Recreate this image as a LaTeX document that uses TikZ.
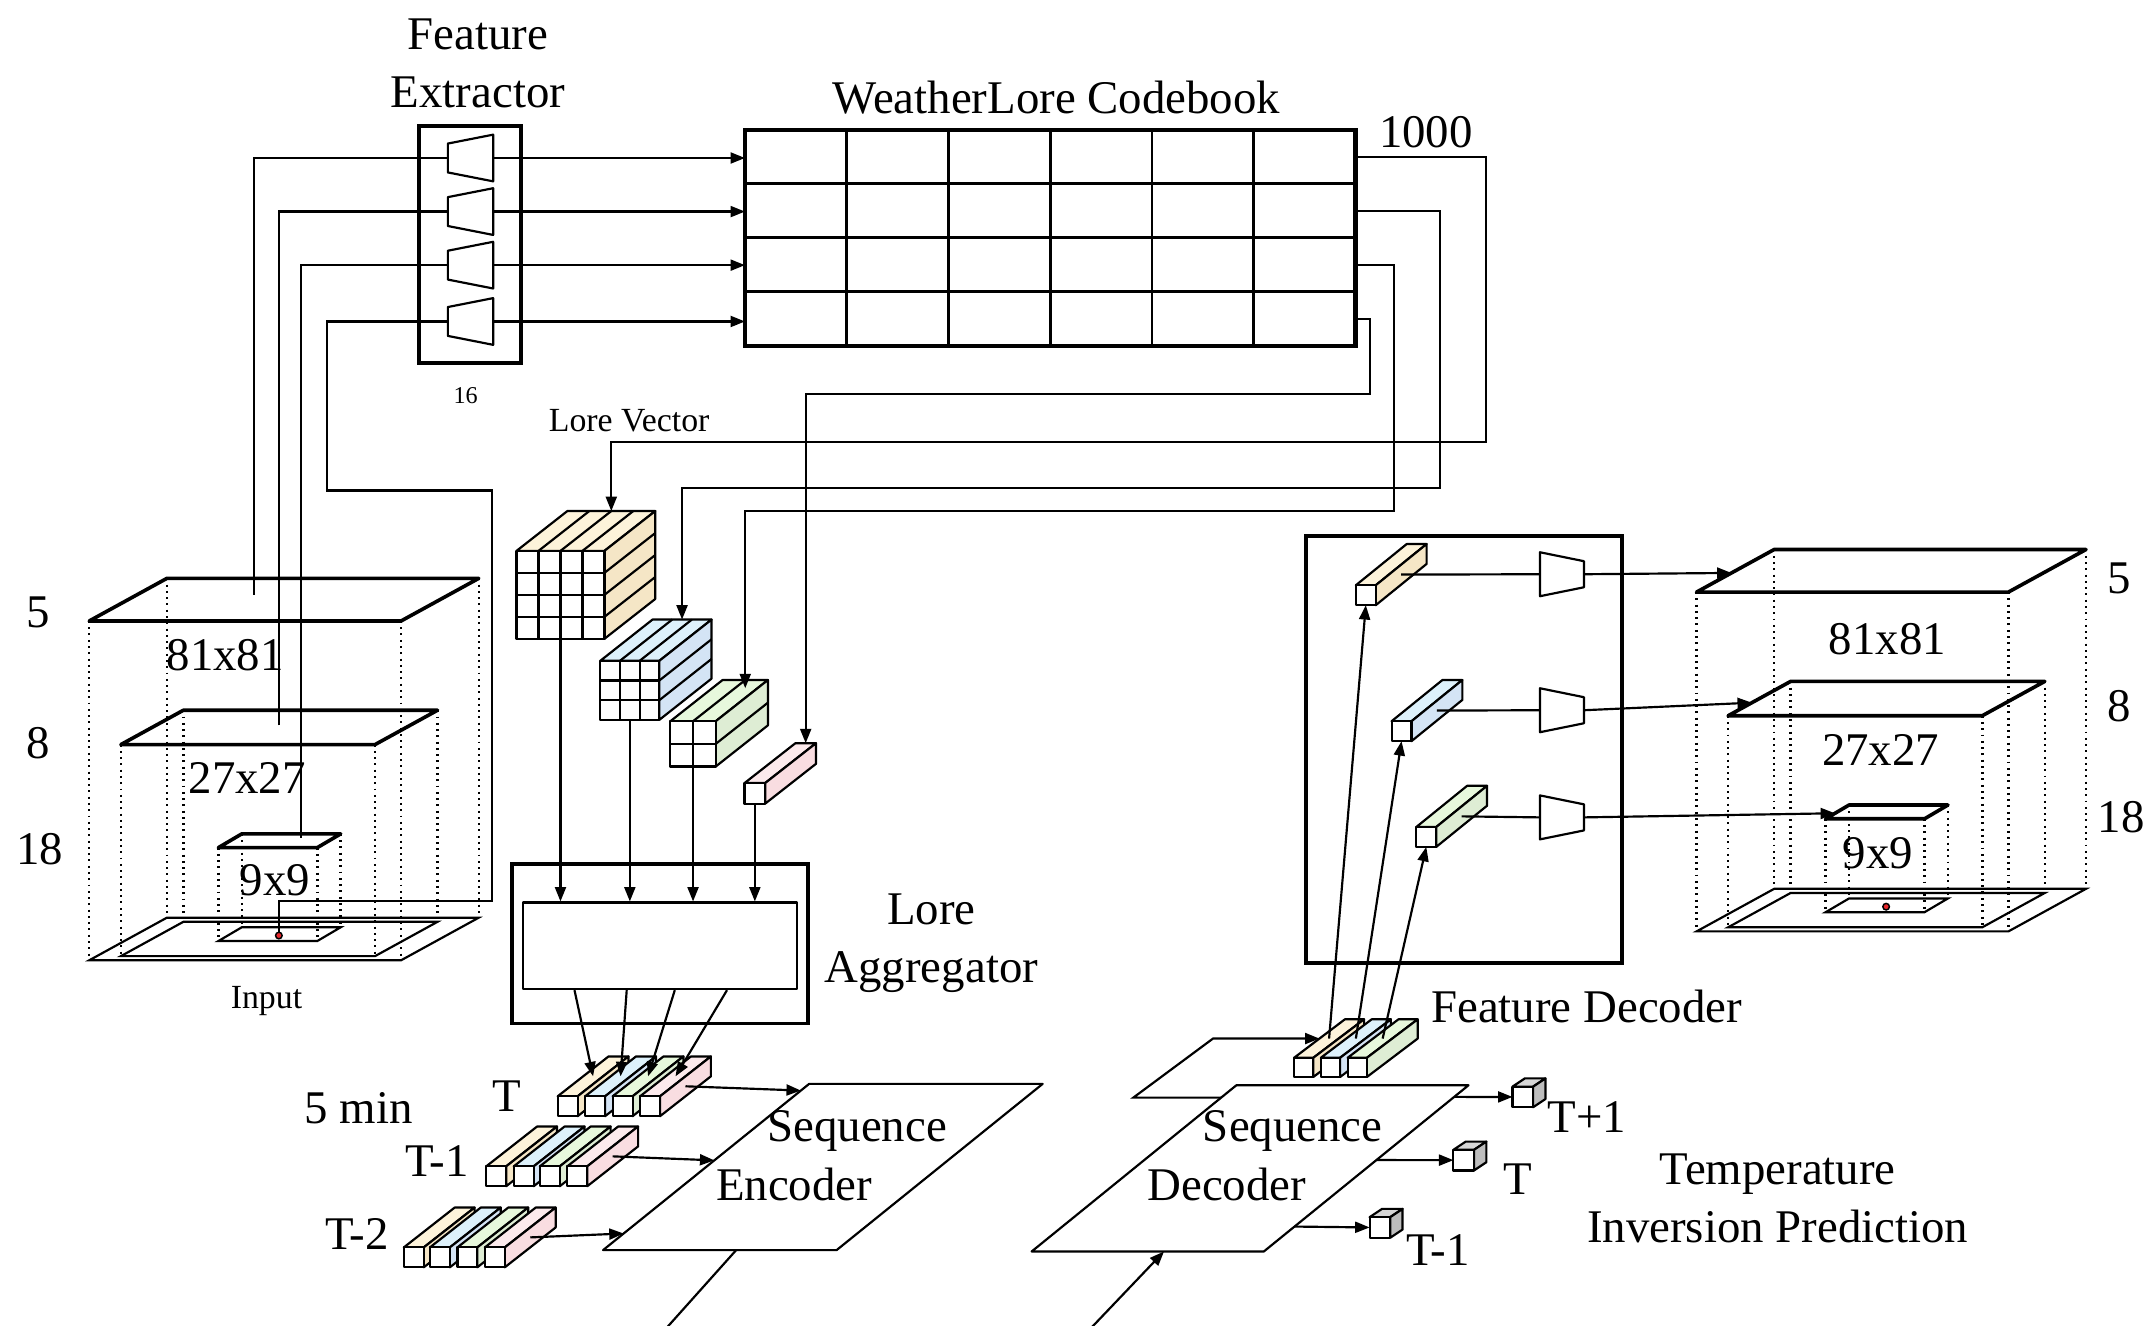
\documentclass[tikz,border=0pt]{standalone}
\usepackage{fontspec}
\setmainfont{Liberation Serif}
\usetikzlibrary{arrows.meta,calc,fit}

\definecolor{yelTop}{HTML}{FDF3DA}
\definecolor{yelSide}{HTML}{F5E6C6}
\definecolor{bluTop}{HTML}{DDF1FB}
\definecolor{bluSide}{HTML}{D4E4F5}
\definecolor{grnTop}{HTML}{E7F8DC}
\definecolor{grnSide}{HTML}{DEEDD4}
\definecolor{pnkTop}{HTML}{FCEAEC}
\definecolor{pnkSide}{HTML}{F9DDE1}
\definecolor{gryTop}{HTML}{D6D6D6}
\definecolor{grySide}{HTML}{BDBDBD}
\definecolor{dotRed}{HTML}{E8262B}

\tikzset{
  thinline/.style={line width=0.45pt,line join=round},
  wire/.style={line width=0.45pt},
  arr/.style={wire,-{Triangle[length=1.05mm,width=0.8mm]}},
  boxframe/.style={draw,line width=0.8pt,inner sep=0pt},
  gridline/.style={line width=0.55pt},
  plane/.style={line width=0.75pt,line join=round},
  baseplane/.style={line width=0.45pt},
  dotline/.style={line width=0.5pt,dash pattern=on 0.4pt off 0.9pt},
  big/.style={font=\fontsize{9.7}{11.9}\selectfont,inner sep=0pt,align=center},
  small/.style={font=\fontsize{7}{8.4}\selectfont,inner sep=0pt},
  tiny/.style={font=\fontsize{5}{6}\selectfont,inner sep=0pt},
}

% Box with an n x n front grid and a slanted depth.
% #1 name, #2 x, #3 y (front top-left), #4 cell size, #5 cells per side,
% #6 depth x, #7 depth y, #8 top colour, #9 side colour
\newcommand\prism[9]{%
  \pgfmathsetmacro\pw{#4*#5}%
  \pgfmathsetmacro\hdx{0.5*#6}%
  \pgfmathsetmacro\hdy{0.5*(#7)}%
  \coordinate (#1-ftl) at (#2,#3);
  \coordinate (#1-ftr) at ($(#2,#3)+(\pw,0)$);
  \coordinate (#1-fbr) at ($(#2,#3)+(\pw,\pw)$);
  \coordinate (#1-fbl) at ($(#2,#3)+(0,\pw)$);
  \filldraw[fill=#8,thinline] (#1-ftl) -- (#1-ftr) -- ++(#6,#7) -- ($(#1-ftl)+(#6,#7)$) -- cycle;
  \filldraw[fill=#9,thinline] (#1-ftr) -- (#1-fbr) -- ++(#6,#7) -- ($(#1-ftr)+(#6,#7)$) -- cycle;
  \filldraw[fill=white,thinline] (#1-ftl) rectangle (#1-fbr);
  \ifnum#5>1
    \pgfmathtruncatemacro\pn{#5-1}%
    \foreach \k in {1,...,\pn}{
      \draw[thinline] ($(#1-ftl)+({\k*#4},0)$) -- ++(0,\pw);
      \draw[thinline] ($(#1-ftl)+(0,{\k*#4})$) -- ++(\pw,0);
      \draw[thinline] ($(#1-ftl)+({\k*#4},0)$) -- ++(#6,#7);
      \draw[thinline] ($(#1-ftr)+(0,{\k*#4})$) -- ++(#6,#7);
    }
  \fi
  \coordinate (#1-top) at ($(#1-ftl)!0.5!(#1-ftr)+(\hdx,\hdy)$);
  \coordinate (#1-back) at ($(#1-ftl)!0.5!(#1-ftr)+(#6,#7)$);
  \coordinate (#1-side) at ($(#1-ftr)!0.5!(#1-fbr)+(\hdx,\hdy)$);
  \coordinate (#1-tl) at ($(#1-ftl)+(\hdx,\hdy)$);
  \coordinate (#1-bot) at ($(#1-fbl)!0.5!(#1-fbr)$);
  \coordinate (#1-w) at ($(#1-ftl)!0.5!(#1-fbl)$);
}

% Trapezoid block: #1 name, #2 left x, #3 centre y,
% #4 left half-height, #5 right half-height, #6 width
\newcommand\trap[6]{%
  \filldraw[fill=white,thinline] (#2,#3-#4) -- (#2+#6,#3-#5) -- (#2+#6,#3+#5) -- (#2,#3+#4) -- cycle;
  \coordinate (#1-in) at (#2,#3);
  \coordinate (#1-out) at (#2+#6,#3);
}

% Corners of a horizontal sheet seen in perspective:
% #1 name, #2 #3 front-left corner, #4 width, #5 #6 offset of the back edge
\newcommand\layer[6]{%
  \coordinate (#1-fl) at (#2,#3);
  \coordinate (#1-fr) at (#2+#4,#3);
  \coordinate (#1-br) at (#2+#4+#5,#3+#6);
  \coordinate (#1-bl) at (#2+#5,#3+#6);
}

% Three stacked pressure levels over a ground sheet: #1 prefix, #2 #3 shift
\newcommand\volume[3]{%
  \begin{scope}[shift={(#2,#3)}]
    \layer{#1t}{65}{452}{227}{56.5}{-31}
    \layer{#1m}{88}{542}{185}{45.5}{-25}
    \layer{#1s}{159}{617}{72}{17}{-10}
    \layer{#1bt}{65}{699}{227}{56.5}{-31}
    \layer{#1bm}{88}{696}{185}{45.5}{-25}
    \layer{#1bs}{159}{685}{72}{17}{-10}
    \coordinate (#1dot) at (203,681);
  \end{scope}
  \foreach \c in {fl,fr,br,bl}{
    \draw[dotline] (#1t-\c) -- (#1bt-\c);
    \draw[dotline] (#1m-\c) -- (#1bm-\c);
    \draw[dotline] (#1s-\c) -- (#1bs-\c);
  }
  \foreach \p in {#1bt,#1bm,#1bs}{
    \draw[baseplane] (\p-fl) -- (\p-fr) -- (\p-br) -- (\p-bl) -- cycle;
  }
  \foreach \p in {#1t,#1m,#1s}{
    \draw[plane] (\p-fl) -- (\p-fr) -- (\p-br) -- (\p-bl) -- cycle;
  }
}

\begin{document}
\begin{tikzpicture}[x=0.1mm,y=-0.1mm]
\useasboundingbox (0,0) rectangle (1568,965);

% ---------- titles ----------
\node[big] (feTitle) at (348,46) {Feature\\Extractor};
\node[big] (cbTitle) at (769,71) {WeatherLore Codebook};
\node[big] (cbSize) at (1038,96) {1000};
\node[tiny] (feSize) at (339,288) {16};
\node[small] (lvTitle) at (458,306) {Lore Vector};

% ---------- input volume ----------
\volume{L}{0}{0}
\node[big] (lv5) at (28,446) {5};
\node[big] (lv8) at (28,541) {8};
\node[big] (lv18) at (29,618) {18};
\node[big] (lr81) at (164,477) {81x81};
\node[big] (lr27) at (180,566) {27x27};
\node[big] (lr9) at (200,641) {9x9};
\node[small] (inLbl) at (194,729) {Input};

% ---------- feature extractor ----------
\node[boxframe,fit={(305,92) (379,264)}] (fe) {};
\trap{te1}{326}{115}{10.5}{17}{33}
\trap{te2}{326}{154}{10.5}{17}{33}
\trap{te3}{326}{193}{10.5}{17}{33}
\trap{te4}{326}{234}{10.5}{17}{33}

\coordinate (tap5) at (185,433);
\coordinate (tap8) at (203,528);
\coordinate (tap18) at (219,610);
\draw[wire] (tap5) |- (te1-in);
\draw[wire] (tap8) |- (te2-in);
\draw[wire] (tap18) |- (te3-in);
\draw[wire] (Ldot) |- (358,656) |- (238,357) |- (te4-in);
\filldraw[fill=dotRed,line width=0.3pt] (Ldot) circle[radius=0.24mm];

% ---------- codebook ----------
\node[inner sep=0pt,fit={(543,95) (986,251)}] (cb) {};
\foreach \i [evaluate=\i as \f using \i/6] in {1,...,5}
  \draw[gridline] ($(cb.north west)!\f!(cb.north east)$) -- ($(cb.south west)!\f!(cb.south east)$);
\foreach \j [evaluate=\j as \f using \j/4] in {1,2,3}
  \draw[gridline] ($(cb.north west)!\f!(cb.south west)$) -- ($(cb.north east)!\f!(cb.south east)$);
\draw[line width=0.85pt] (cb.north west) rectangle (cb.south east);

\foreach \r in {1,...,4}
  \draw[arr] (te\r-out) -- (te\r-out -| cb.west);

\coordinate (cbr1) at ($(cb.north east)!0.125!(cb.south east)$);
\coordinate (cbr2) at ($(cb.north east)!0.375!(cb.south east)$);
\coordinate (cbr3) at ($(cb.north east)!0.625!(cb.south east)$);
\coordinate (cbr4) at ($(cb.north east)!0.875!(cb.south east)$);

% ---------- lore vectors ----------
\prism{yc}{376}{401}{16}{4}{37}{-29}{yelTop}{yelSide}
\prism{bc}{437}{481}{14.33}{3}{38}{-30}{bluTop}{bluSide}
\prism{gc}{488}{525}{16.5}{2}{38}{-30}{grnTop}{grnSide}
\prism{pc}{542}{570}{15}{1}{37}{-29}{pnkTop}{pnkSide}

\draw[arr] (cbr1) -| (1082,322) -| (yc-back);
\draw[arr] (cbr2) -| (1048,355) -| (bc-back);
\draw[arr] (cbr3) -| (1015,372) -| ($(gc-back)+(0,6)$);
\draw[arr] (cbr4) -| (997,287) -| (pc-back);

% ---------- lore aggregator ----------
\node[boxframe,fit={(373,629) (588,745)}] (agout) {};
\node[draw,thinline,inner sep=0pt,fit={(381,657) (580,720)}] (agin) {};
\node[big] (agLbl) at (678,686.5) {Lore\\Aggregator};

\draw[arr] (yc-bot) -- (yc-bot |- agin.north);
\draw[arr] (bc-bot) -- (bc-bot |- agin.north);
\draw[arr] (gc-bot) -- (gc-bot |- agin.north);
\draw[arr] (pc-bot) -- (pc-bot |- agin.north);

% ---------- time steps ----------
\prism{t0Y}{406}{798}{14.5}{1}{37}{-29}{yelTop}{yelSide}
\prism{t0B}{426}{798}{14.5}{1}{37}{-29}{bluTop}{bluSide}
\prism{t0G}{446}{798}{14.5}{1}{37}{-29}{grnTop}{grnSide}
\prism{t0P}{466}{798}{14.5}{1}{37}{-29}{pnkTop}{pnkSide}

\prism{t1Y}{354}{849}{14.5}{1}{37}{-29}{yelTop}{yelSide}
\prism{t1B}{374}{849}{14.5}{1}{37}{-29}{bluTop}{bluSide}
\prism{t1G}{393}{849}{14.5}{1}{37}{-29}{grnTop}{grnSide}
\prism{t1P}{413}{849}{14.5}{1}{37}{-29}{pnkTop}{pnkSide}

\prism{t2Y}{294}{908}{14.5}{1}{37}{-29}{yelTop}{yelSide}
\prism{t2B}{313}{908}{14.5}{1}{37}{-29}{bluTop}{bluSide}
\prism{t2G}{333}{908}{14.5}{1}{37}{-29}{grnTop}{grnSide}
\prism{t2P}{353}{908}{14.5}{1}{37}{-29}{pnkTop}{pnkSide}

\draw[arr] ($(agin.south west)+(38,0)$) -- (t0Y-top);
\draw[arr] ($(agin.south west)+(76,0)$) -- (t0B-top);
\draw[arr] ($(agin.south west)+(111,0)$) -- (t0G-top);
\draw[arr] ($(agin.south west)+(149,0)$) -- (t0P-top);

\node[big] (lblMin) at (261,807) {5 min};
\node[big] (lblT0) at (369,798) {T};
\node[big] (lblT1) at (318,845) {T-1};
\node[big] (lblT2) at (260,898) {T-2};

% ---------- sequence encoder ----------
\coordinate (eTL) at (589,789);
\coordinate (eTR) at (759,789);
\coordinate (eBR) at (609,910);
\coordinate (eBL) at (439,910);
\filldraw[fill=white,thinline] (eTL) -- (eTR) -- (eBR) -- (eBL) -- cycle;
\node[big] (encA) at (624,823) {Sequence};
\node[big] (encB) at (578,862) {Encoder};

\draw[arr] (t0P-side) -- ($(eTL)!0.04!(eBL)$);
\draw[arr] (t1P-side) -- ($(eTL)!0.46!(eBL)$);
\draw[arr] (t2P-side) -- ($(eTL)!0.9!(eBL)$);
\coordinate (encTail) at (484,968);
\draw[wire] ($(eBL)!0.57!(eBR)$) -- (encTail);

% ---------- sequence decoder ----------
\coordinate (bsA) at (889,799);
\coordinate (bsB) at (825,799);
\coordinate (bsC) at (883,756);

\coordinate (dTL) at (900,790);
\coordinate (dTR) at (1069,790);
\coordinate (dBR) at (920,911);
\coordinate (dBL) at (751,911);
\filldraw[fill=white,thinline] (dTL) -- (dTR) -- (dBR) -- (dBL) -- cycle;
\node[big] (decA) at (941,823) {Sequence};
\node[big] (decB) at (893,862) {Decoder};

\coordinate (decTail) at (793,968);
\draw[arr] (decTail) -- ($(dBL)!0.57!(dBR)$);

\prism{dY}{942}{770}{14}{1}{37}{-28}{yelTop}{yelSide}
\prism{dBl}{961.5}{770}{14}{1}{37}{-28}{bluTop}{bluSide}
\prism{dG}{981}{770}{14}{1}{37}{-28}{grnTop}{grnSide}
\draw[arr] (bsA) -- (bsB) -- (bsC) -- (dY-tl);

% prediction cubes
\prism{pA}{1101}{791}{15}{1}{9}{-6}{gryTop}{grySide}
\prism{pB}{1058}{837}{15}{1}{9}{-6}{gryTop}{grySide}
\prism{pC}{997}{886}{15}{1}{9}{-6}{gryTop}{grySide}
\draw[arr] ($(dTR)!0.07!(dBR)$) -- (pA-w);
\draw[arr] ($(dTR)!0.45!(dBR)$) -- (pB-w);
\draw[arr] ($(dTR)!0.85!(dBR)$) -- (pC-w);
\node[big] (lblP1) at (1155,813) {T+1};
\node[big] (lblP0) at (1105,858) {T};
\node[big] (lblPm) at (1047,910) {T-1};
\node[big] (lblTIP) at (1294,872.5) {Temperature\\Inversion Prediction};

% ---------- feature decoder ----------
\node[boxframe,fit={(951,390) (1181,701)}] (fdbox) {};
\node[big] (fdLbl) at (1155,733) {Feature Decoder};
\prism{fY}{987}{426}{14.5}{1}{37}{-30}{yelTop}{yelSide}
\prism{fB}{1013}{525}{14.5}{1}{37}{-30}{bluTop}{bluSide}
\prism{fG}{1031}{602}{14.5}{1}{37}{-30}{grnTop}{grnSide}
\trap{tq1}{1121}{418}{16}{9.5}{32}
\trap{tq2}{1121}{517}{16}{9.5}{32}
\trap{tq3}{1121}{595}{16}{9.5}{32}
\draw[wire] (fY-side) -- (tq1-in);
\draw[wire] (fB-side) -- (tq2-in);
\draw[wire] (fG-side) -- (tq3-in);

\draw[arr] (dY-top) -- (fY-bot);
\draw[arr] (dBl-top) -- (fB-bot);
\draw[arr] (dG-top) -- (fG-bot);

% ---------- output volume ----------
\volume{R}{1170}{-21}
\filldraw[fill=dotRed,line width=0.3pt] (Rdot) circle[radius=0.24mm];
\node[big] (rv5) at (1543,421) {5};
\node[big] (rv8) at (1543,514) {8};
\node[big] (rv18) at (1544,595) {18};
\node[big] (rr81) at (1374,465) {81x81};
\node[big] (rr27) at (1369,546) {27x27};
\node[big] (rr9) at (1367,621) {9x9};

\draw[arr] (tq1-out) -- ($(Rt-fl)!0.45!(Rt-bl)$);
\draw[arr] (tq2-out) -- ($(Rm-fl)!0.38!(Rm-bl)$);
\draw[arr] (tq3-out) -- ($(Rs-fl)!0.4!(Rs-bl)$);

\end{tikzpicture}
\end{document}
